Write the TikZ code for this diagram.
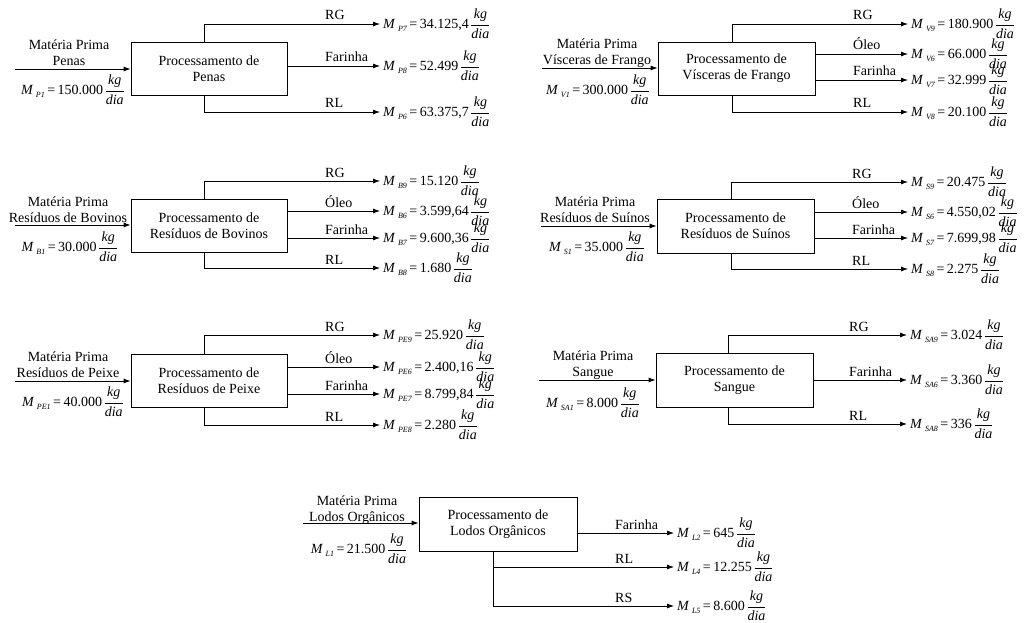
\documentclass[tikz,border=0pt]{standalone}
\usepackage{fontspec}
\setmainfont{Liberation Serif}
\usepackage{amsmath}
\usetikzlibrary{arrows.meta}
\newcommand\flowM[2]{\textit{M}\kern2.5pt\raisebox{-3pt}{\fontsize{8}{8}\selectfont\itshape #1}\kern2.5pt=\kern2.5pt#2\kern1.5pt$\displaystyle\frac{\textit{kg}}{\textit{dia}}$}
\begin{document}
\begin{tikzpicture}[x=1pt,y=-1pt,
  every node/.style={font=\fontsize{14}{16}\selectfont},
  procbox/.style={draw,line width=0.8pt,minimum width=156pt,minimum height=53pt,align=center,inner sep=0pt},
  arr/.style={line width=0.8pt,-{Latex[length=7pt,width=5pt]}},
  outn/.style={anchor=west,inner sep=3pt},
  lab/.style={anchor=base west,inner sep=0pt},
  intext/.style={align=center,inner sep=0pt},
  inflow/.style={inner sep=0pt}]
\useasboundingbox (0,0) rectangle (1027,623);

% ---------- Penas ----------
\node[procbox] (pP) at (209,68.5) {Processamento de\\Penas};
\coordinate (iP) at (15,69);
\coordinate (tP) at (204,0);
\draw[arr] (iP) -- (pP.west |- iP);
\node[intext] (nP) at (69,53) {Matéria Prima\\Penas};
\node[inflow] (fP1) at (73,90) {\flowM{P1}{150.000}};
\node[outn] (oP7) at (380,24) {\flowM{P7}{34.125,4}};
\node[outn] (oP8) at (380,66) {\flowM{P8}{52.499}};
\node[outn] (oP6) at (380,112) {\flowM{P6}{63.375,7}};
\draw[arr] (pP.north -| tP) |- (oP7.west);
\draw[arr] (pP.east |- oP8.west) -- (oP8.west);
\draw[arr] (pP.south -| tP) |- (oP6.west);
\node[lab] (lP7) at (325,20) {RG};
\node[lab] (lP8) at (325,62) {Farinha};
\node[lab] (lP6) at (325,108) {RL};

% ---------- Visceras ----------
\node[procbox,minimum width=157pt] (pV) at (736.5,68.5) {Processamento de\\Vísceras de Frango};
\coordinate (iV) at (542,68);
\coordinate (tV) at (732,0);
\draw[arr] (iV) -- (pV.west |- iV);
\node[intext] (nV) at (597,53) {Matéria Prima\\Vísceras de Frango};
\node[inflow] (fV1) at (598,90) {\flowM{V1}{300.000}};
\node[outn] (oV9) at (908,24) {\flowM{V9}{180.900}};
\node[outn] (oV6) at (908,54) {\flowM{V6}{66.000}};
\node[outn] (oV7) at (908,80) {\flowM{V7}{32.999}};
\node[outn] (oV8) at (908,112) {\flowM{V8}{20.100}};
\draw[arr] (pV.north -| tV) |- (oV9.west);
\draw[arr] (pV.east |- oV6.west) -- (oV6.west);
\draw[arr] (pV.east |- oV7.west) -- (oV7.west);
\draw[arr] (pV.south -| tV) |- (oV8.west);
\node[lab] (lV9) at (853,20) {RG};
\node[lab] (lV6) at (853,50) {Óleo};
\node[lab] (lV7) at (853,76) {Farinha};
\node[lab] (lV8) at (853,108) {RL};

% ---------- Bovinos ----------
\node[procbox] (pB) at (209,225.5) {Processamento de\\Resíduos de Bovinos};
\coordinate (iB) at (15,225);
\coordinate (tB) at (204,0);
\draw[arr] (iB) -- (pB.west |- iB);
\node[intext] (nB) at (68,210) {Matéria Prima\\Resíduos de Bovinos};
\node[inflow] (fB1) at (70,247) {\flowM{B1}{30.000}};
\node[outn] (oB9) at (380,181) {\flowM{B9}{15.120}};
\node[outn] (oB6) at (380,211) {\flowM{B6}{3.599,64}};
\node[outn] (oB7) at (380,238) {\flowM{B7}{9.600,36}};
\node[outn] (oB8) at (380,268) {\flowM{B8}{1.680}};
\draw[arr] (pB.north -| tB) |- (oB9.west);
\draw[arr] (pB.east |- oB6.west) -- (oB6.west);
\draw[arr] (pB.east |- oB7.west) -- (oB7.west);
\draw[arr] (pB.south -| tB) |- (oB8.west);
\node[lab] (lB9) at (325,177) {RG};
\node[lab] (lB6) at (325,207) {Óleo};
\node[lab] (lB7) at (325,234) {Farinha};
\node[lab] (lB8) at (325,264) {RL};

% ---------- Suinos ----------
\node[procbox,minimum width=157pt,minimum height=54pt] (pS) at (735.5,226) {Processamento de\\Resíduos de Suínos};
\coordinate (iS) at (541,226);
\coordinate (tS) at (731,0);
\draw[arr] (iS) -- (pS.west |- iS);
\node[intext] (nS) at (595,210) {Matéria Prima\\Resíduos de Suínos};
\node[inflow] (fS1) at (597,247) {\flowM{S1}{35.000}};
\node[outn] (oS9) at (908,182) {\flowM{S9}{20.475}};
\node[outn] (oS6) at (908,212) {\flowM{S6}{4.550,02}};
\node[outn] (oS7) at (908,238) {\flowM{S7}{7.699,98}};
\node[outn] (oS8) at (908,269) {\flowM{S8}{2.275}};
\draw[arr] (pS.north -| tS) |- (oS9.west);
\draw[arr] (pS.east |- oS6.west) -- (oS6.west);
\draw[arr] (pS.east |- oS7.west) -- (oS7.west);
\draw[arr] (pS.south -| tS) |- (oS8.west);
\node[lab] (lS9) at (852,178) {RG};
\node[lab] (lS6) at (852,208) {Óleo};
\node[lab] (lS7) at (852,234) {Farinha};
\node[lab] (lS8) at (852,265) {RL};

% ---------- Peixe ----------
\node[procbox] (pPE) at (209,380.5) {Processamento de\\Resíduos de Peixe};
\coordinate (iPE) at (15,381);
\coordinate (tPE) at (204,0);
\draw[arr] (iPE) -- (pPE.west |- iPE);
\node[intext] (nPE) at (68,365) {Matéria Prima\\Resíduos de Peixe};
\node[inflow] (fPE1) at (73,402) {\flowM{PE1}{40.000}};
\node[outn] (oPE9) at (380,335) {\flowM{PE9}{25.920}};
\node[outn] (oPE6) at (380,367) {\flowM{PE6}{2.400,16}};
\node[outn] (oPE7) at (380,394) {\flowM{PE7}{8.799,84}};
\node[outn] (oPE8) at (380,425) {\flowM{PE8}{2.280}};
\draw[arr] (pPE.north -| tPE) |- (oPE9.west);
\draw[arr] (pPE.east |- oPE6.west) -- (oPE6.west);
\draw[arr] (pPE.east |- oPE7.west) -- (oPE7.west);
\draw[arr] (pPE.south -| tPE) |- (oPE8.west);
\node[lab] (lPE9) at (325,331) {RG};
\node[lab] (lPE6) at (325,363) {Óleo};
\node[lab] (lPE7) at (325,390) {Farinha};
\node[lab] (lPE8) at (325,421) {RL};

% ---------- Sangue ----------
\node[procbox,minimum width=157pt,minimum height=54pt] (pSA) at (734.5,380) {Processamento de\\Sangue};
\coordinate (iSA) at (539,380);
\coordinate (tSA) at (728,0);
\draw[arr] (iSA) -- (pSA.west |- iSA);
\node[intext] (nSA) at (593,365) {Matéria Prima\\Sangue};
\node[inflow] (fSA1) at (593,403) {\flowM{SA1}{8.000}};
\node[outn] (oSA9) at (907,335) {\flowM{SA9}{3.024}};
\node[outn] (oSA6) at (907,380) {\flowM{SA6}{3.360}};
\node[outn] (oSA8) at (907,424) {\flowM{SA8}{336}};
\draw[arr] (pSA.north -| tSA) |- (oSA9.west);
\draw[arr] (pSA.east |- oSA6.west) -- (oSA6.west);
\draw[arr] (pSA.south -| tSA) |- (oSA8.west);
\node[lab] (lSA9) at (849,331) {RG};
\node[lab] (lSA6) at (849,376) {Farinha};
\node[lab] (lSA8) at (849,420) {RL};

% ---------- Lodos ----------
\node[procbox,minimum width=158pt,minimum height=54pt] (pL) at (498,524) {Processamento de\\Lodos Orgânicos};
\coordinate (iL) at (303,523);
\coordinate (tL) at (493,0);
\draw[arr] (iL) -- (pL.west |- iL);
\node[intext] (nL) at (357,510) {Matéria Prima\\Lodos Orgânicos};
\node[inflow] (fL1) at (359,549) {\flowM{L1}{21.500}};
\node[outn] (oL2) at (674,533) {\flowM{L2}{645}};
\node[outn] (oL4) at (674,567) {\flowM{L4}{12.255}};
\node[outn] (oL5) at (674,606) {\flowM{L5}{8.600}};
\draw[arr] (pL.east |- oL2.west) -- (oL2.west);
\draw[arr] (pL.south -| tL) |- (oL4.west);
\draw[arr] (pL.south -| tL) |- (oL5.west);
\node[lab] (lL2) at (615,529) {Farinha};
\node[lab] (lL4) at (615,563) {RL};
\node[lab] (lL5) at (615,602) {RS};
\end{tikzpicture}
\end{document}
